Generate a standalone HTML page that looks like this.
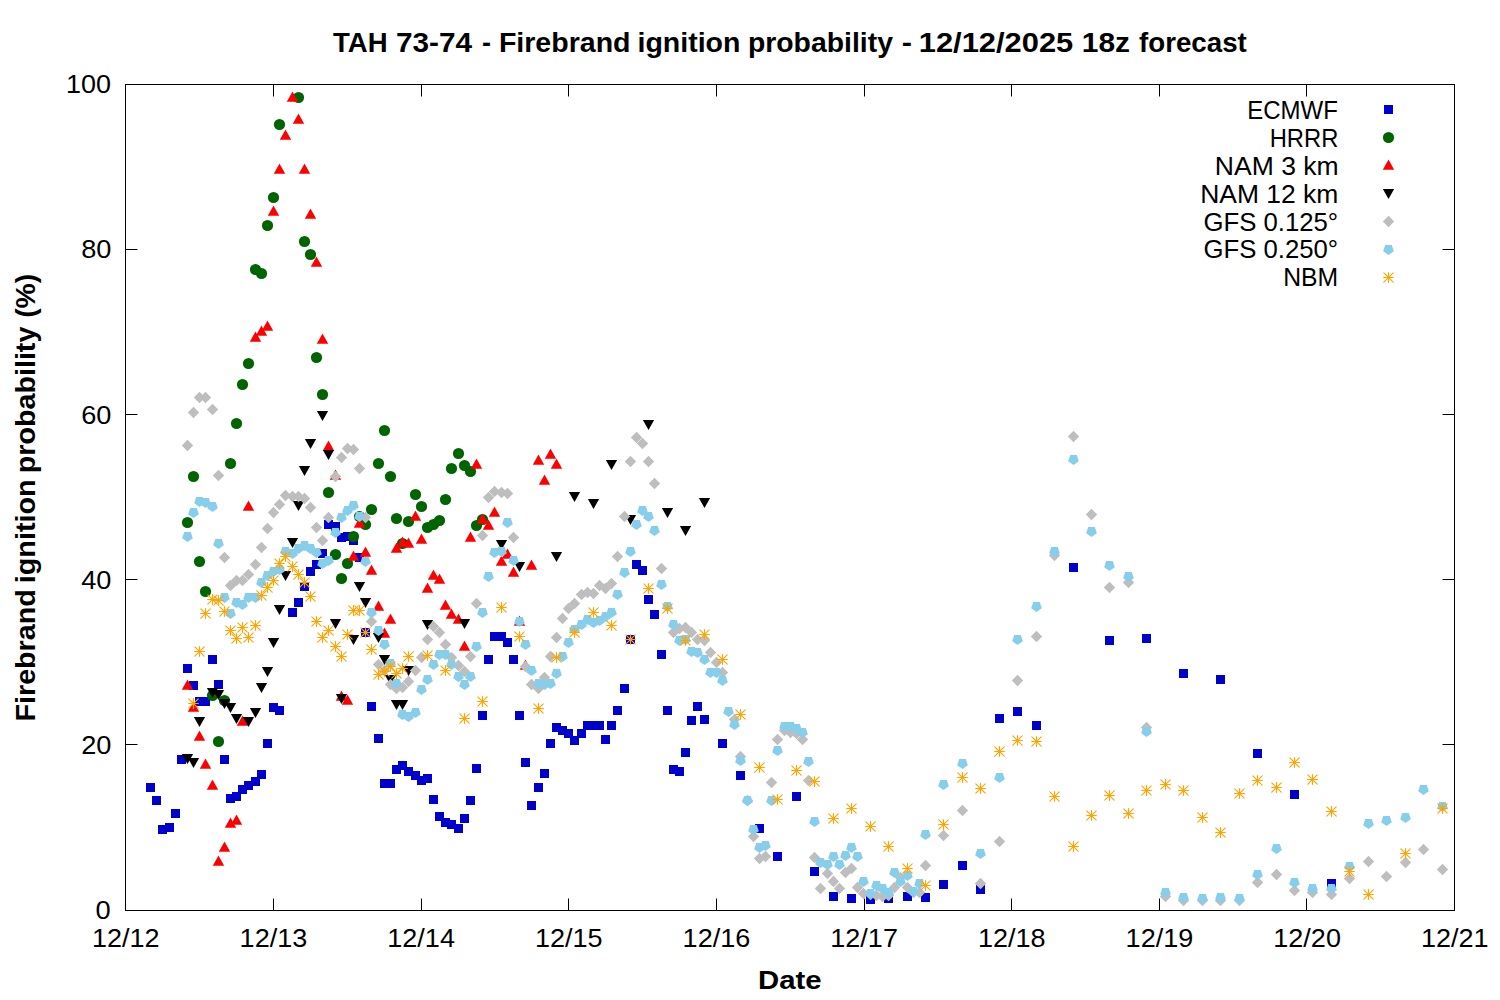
<!DOCTYPE html>
<html><head><meta charset="utf-8"><style>
html,body{margin:0;padding:0;background:#fff;}
svg{display:block;}
text{font-family:"Liberation Sans",sans-serif;fill:#000;}
</style></head><body>
<svg width="1500" height="1000" viewBox="0 0 1500 1000">
<rect width="1500" height="1000" fill="#fff"/>

<path d="M125.5 744.5H137.5M1454.5 744.5H1442.5M125.5 579.5H137.5M1454.5 579.5H1442.5M125.5 414.5H137.5M1454.5 414.5H1442.5M125.5 249.5H137.5M1454.5 249.5H1442.5M273.5 910.5V898.5M273.5 84.5V96.5M421.5 910.5V898.5M421.5 84.5V96.5M568.5 910.5V898.5M568.5 84.5V96.5M716.5 910.5V898.5M716.5 84.5V96.5M864.5 910.5V898.5M864.5 84.5V96.5M1011.5 910.5V898.5M1011.5 84.5V96.5M1159.5 910.5V898.5M1159.5 84.5V96.5M1306.5 910.5V898.5M1306.5 84.5V96.5" stroke="#000" stroke-width="1" fill="none"/>
<rect x="125.5" y="84.5" width="1329" height="826" stroke="#000" stroke-width="1" fill="none"/>
<text transform="translate(95.56,919.10) scale(1.0385,1)" font-size="26.3">0</text>
<text transform="translate(81.17,753.90) scale(1.0333,1)" font-size="26.3">20</text>
<text transform="translate(81.17,588.70) scale(1.0333,1)" font-size="26.3">40</text>
<text transform="translate(81.17,423.50) scale(1.0333,1)" font-size="26.3">60</text>
<text transform="translate(81.17,258.30) scale(1.0333,1)" font-size="26.3">80</text>
<text transform="translate(65.95,93.10) scale(1.0268,1)" font-size="26.3">100</text>
<text transform="translate(91.94,947.00) scale(1.0286,1)" font-size="26.3">12/12</text>
<text transform="translate(239.61,947.00) scale(1.0286,1)" font-size="26.3">12/13</text>
<text transform="translate(387.28,947.00) scale(1.0286,1)" font-size="26.3">12/14</text>
<text transform="translate(534.94,947.00) scale(1.0286,1)" font-size="26.3">12/15</text>
<text transform="translate(682.61,947.00) scale(1.0286,1)" font-size="26.3">12/16</text>
<text transform="translate(830.28,947.00) scale(1.0286,1)" font-size="26.3">12/17</text>
<text transform="translate(977.94,947.00) scale(1.0286,1)" font-size="26.3">12/18</text>
<text transform="translate(1125.61,947.00) scale(1.0286,1)" font-size="26.3">12/19</text>
<text transform="translate(1273.28,947.00) scale(1.0286,1)" font-size="26.3">12/20</text>
<text transform="translate(1420.94,947.00) scale(1.0286,1)" font-size="26.3">12/21</text>
<text transform="translate(333.00,51.80) scale(1.0192,1)" font-size="27.0" font-weight="bold">TAH</text>
<text transform="translate(395.90,51.80) scale(1.1029,1)" font-size="27.0" font-weight="bold">73-74</text>
<text transform="translate(482.00,51.80) scale(1.0000,1)" font-size="27.0" font-weight="bold">-</text>
<text transform="translate(498.88,51.80) scale(1.0579,1)" font-size="27.0" font-weight="bold">Firebrand</text>
<text transform="translate(637.49,51.80) scale(1.0574,1)" font-size="27.0" font-weight="bold">ignition</text>
<text transform="translate(747.90,51.80) scale(1.0515,1)" font-size="27.0" font-weight="bold">probability</text>
<text transform="translate(901.86,51.80) scale(1.1429,1)" font-size="27.0" font-weight="bold">-</text>
<text transform="translate(918.71,51.80) scale(1.1439,1)" font-size="27.0" font-weight="bold">12/12/2025</text>
<text transform="translate(1081.78,51.80) scale(1.1098,1)" font-size="27.0" font-weight="bold">18z</text>
<text transform="translate(1139.00,51.80) scale(1.0267,1)" font-size="27.0" font-weight="bold">forecast</text>
<text transform="translate(758.09,989.00) scale(1.1073,1)" font-size="26.5" font-weight="bold">Date</text>
<text transform="translate(35.00,721.53) rotate(-90) scale(1.0628,1)" font-size="27.0" font-weight="bold">Firebrand</text>
<text transform="translate(35.00,583.34) rotate(-90) scale(1.0681,1)" font-size="27.0" font-weight="bold">ignition</text>
<text transform="translate(35.00,473.33) rotate(-90) scale(1.0637,1)" font-size="27.0" font-weight="bold">probability</text>
<text transform="translate(35.00,317.85) rotate(-90) scale(1.0500,1)" font-size="27.0" font-weight="bold">(%)</text>
<text transform="translate(1247.19,118.80) scale(0.9072,1)" font-size="26.5">ECMWF</text>
<text transform="translate(1269.71,147.00) scale(0.8973,1)" font-size="26.5">HRRR</text>
<text transform="translate(1214.80,175.00) scale(1.0017,1)" font-size="26.5">NAM 3 km</text>
<text transform="translate(1200.20,202.60) scale(0.9985,1)" font-size="26.5">NAM 12 km</text>
<text transform="translate(1203.43,230.50) scale(0.9706,1)" font-size="26.5">GFS 0.125°</text>
<text transform="translate(1203.43,258.30) scale(0.9706,1)" font-size="26.5">GFS 0.250°</text>
<text transform="translate(1283.13,286.00) scale(0.9345,1)" font-size="26.5">NBM</text>
<g fill="#0000cd"><rect x="1384.00" y="105.00" width="9" height="9"/><rect x="146.00" y="783.00" width="9" height="9"/><rect x="152.00" y="796.00" width="9" height="9"/><rect x="158.00" y="825.00" width="9" height="9"/><rect x="165.00" y="823.00" width="9" height="9"/><rect x="171.00" y="809.00" width="9" height="9"/><rect x="177.00" y="755.00" width="9" height="9"/><rect x="183.00" y="664.00" width="9" height="9"/><rect x="189.00" y="681.00" width="9" height="9"/><rect x="195.00" y="697.00" width="9" height="9"/><rect x="201.00" y="697.00" width="9" height="9"/><rect x="208.00" y="655.00" width="9" height="9"/><rect x="214.00" y="680.00" width="9" height="9"/><rect x="220.00" y="755.00" width="9" height="9"/><rect x="226.00" y="794.00" width="9" height="9"/><rect x="232.00" y="792.00" width="9" height="9"/><rect x="238.00" y="785.00" width="9" height="9"/><rect x="244.00" y="781.00" width="9" height="9"/><rect x="251.00" y="777.00" width="9" height="9"/><rect x="257.00" y="770.00" width="9" height="9"/><rect x="263.00" y="739.00" width="9" height="9"/><rect x="269.00" y="703.00" width="9" height="9"/><rect x="275.00" y="706.00" width="9" height="9"/><rect x="288.00" y="608.00" width="9" height="9"/><rect x="294.00" y="598.00" width="9" height="9"/><rect x="300.00" y="582.00" width="9" height="9"/><rect x="306.00" y="567.00" width="9" height="9"/><rect x="312.00" y="560.00" width="9" height="9"/><rect x="318.00" y="549.00" width="9" height="9"/><rect x="324.00" y="520.00" width="9" height="9"/><rect x="331.00" y="522.00" width="9" height="9"/><rect x="337.00" y="533.00" width="9" height="9"/><rect x="343.00" y="532.00" width="9" height="9"/><rect x="349.00" y="536.00" width="9" height="9"/><rect x="355.00" y="553.00" width="9" height="9"/><rect x="361.00" y="628.00" width="9" height="9"/><rect x="367.00" y="702.00" width="9" height="9"/><rect x="374.00" y="734.00" width="9" height="9"/><rect x="380.00" y="779.00" width="9" height="9"/><rect x="386.00" y="779.00" width="9" height="9"/><rect x="392.00" y="765.00" width="9" height="9"/><rect x="398.00" y="761.00" width="9" height="9"/><rect x="404.00" y="767.00" width="9" height="9"/><rect x="411.00" y="771.00" width="9" height="9"/><rect x="417.00" y="776.00" width="9" height="9"/><rect x="423.00" y="774.00" width="9" height="9"/><rect x="429.00" y="795.00" width="9" height="9"/><rect x="435.00" y="812.00" width="9" height="9"/><rect x="441.00" y="818.00" width="9" height="9"/><rect x="447.00" y="820.00" width="9" height="9"/><rect x="454.00" y="824.00" width="9" height="9"/><rect x="460.00" y="814.00" width="9" height="9"/><rect x="466.00" y="796.00" width="9" height="9"/><rect x="472.00" y="764.00" width="9" height="9"/><rect x="478.00" y="711.00" width="9" height="9"/><rect x="484.00" y="655.00" width="9" height="9"/><rect x="490.00" y="632.00" width="9" height="9"/><rect x="497.00" y="632.00" width="9" height="9"/><rect x="503.00" y="638.00" width="9" height="9"/><rect x="509.00" y="655.00" width="9" height="9"/><rect x="515.00" y="711.00" width="9" height="9"/><rect x="521.00" y="758.00" width="9" height="9"/><rect x="527.00" y="801.00" width="9" height="9"/><rect x="534.00" y="783.00" width="9" height="9"/><rect x="540.00" y="769.00" width="9" height="9"/><rect x="546.00" y="739.00" width="9" height="9"/><rect x="552.00" y="723.00" width="9" height="9"/><rect x="558.00" y="726.00" width="9" height="9"/><rect x="564.00" y="729.00" width="9" height="9"/><rect x="570.00" y="736.00" width="9" height="9"/><rect x="577.00" y="729.00" width="9" height="9"/><rect x="583.00" y="721.00" width="9" height="9"/><rect x="589.00" y="721.00" width="9" height="9"/><rect x="595.00" y="721.00" width="9" height="9"/><rect x="601.00" y="735.00" width="9" height="9"/><rect x="607.00" y="721.00" width="9" height="9"/><rect x="613.00" y="706.00" width="9" height="9"/><rect x="620.00" y="684.00" width="9" height="9"/><rect x="626.00" y="635.00" width="9" height="9"/><rect x="632.00" y="560.00" width="9" height="9"/><rect x="638.00" y="566.00" width="9" height="9"/><rect x="644.00" y="595.00" width="9" height="9"/><rect x="650.00" y="610.00" width="9" height="9"/><rect x="657.00" y="650.00" width="9" height="9"/><rect x="663.00" y="706.00" width="9" height="9"/><rect x="669.00" y="765.00" width="9" height="9"/><rect x="675.00" y="767.00" width="9" height="9"/><rect x="681.00" y="748.00" width="9" height="9"/><rect x="687.00" y="716.00" width="9" height="9"/><rect x="693.00" y="702.00" width="9" height="9"/><rect x="700.00" y="715.00" width="9" height="9"/><rect x="718.00" y="739.00" width="9" height="9"/><rect x="736.00" y="771.00" width="9" height="9"/><rect x="755.00" y="824.00" width="9" height="9"/><rect x="773.00" y="852.00" width="9" height="9"/><rect x="792.00" y="792.00" width="9" height="9"/><rect x="810.00" y="867.00" width="9" height="9"/><rect x="829.00" y="892.00" width="9" height="9"/><rect x="847.00" y="894.00" width="9" height="9"/><rect x="866.00" y="895.00" width="9" height="9"/><rect x="884.00" y="894.00" width="9" height="9"/><rect x="903.00" y="892.00" width="9" height="9"/><rect x="921.00" y="893.00" width="9" height="9"/><rect x="939.00" y="880.00" width="9" height="9"/><rect x="958.00" y="861.00" width="9" height="9"/><rect x="976.00" y="885.00" width="9" height="9"/><rect x="995.00" y="714.00" width="9" height="9"/><rect x="1013.00" y="707.00" width="9" height="9"/><rect x="1032.00" y="721.00" width="9" height="9"/><rect x="1069.00" y="563.00" width="9" height="9"/><rect x="1105.00" y="636.00" width="9" height="9"/><rect x="1142.00" y="634.00" width="9" height="9"/><rect x="1179.00" y="669.00" width="9" height="9"/><rect x="1216.00" y="675.00" width="9" height="9"/><rect x="1253.00" y="749.00" width="9" height="9"/><rect x="1290.00" y="790.00" width="9" height="9"/><rect x="1327.00" y="879.00" width="9" height="9"/></g>
<g fill="#006400"><circle cx="1388.50" cy="137.50" r="5.6"/><circle cx="187.50" cy="522.50" r="5.6"/><circle cx="193.50" cy="476.50" r="5.6"/><circle cx="199.50" cy="561.50" r="5.6"/><circle cx="205.50" cy="591.50" r="5.6"/><circle cx="212.50" cy="695.50" r="5.6"/><circle cx="218.50" cy="741.50" r="5.6"/><circle cx="224.50" cy="700.50" r="5.6"/><circle cx="230.50" cy="463.50" r="5.6"/><circle cx="236.50" cy="423.50" r="5.6"/><circle cx="242.50" cy="384.50" r="5.6"/><circle cx="248.50" cy="363.50" r="5.6"/><circle cx="255.50" cy="269.50" r="5.6"/><circle cx="261.50" cy="273.50" r="5.6"/><circle cx="267.50" cy="225.50" r="5.6"/><circle cx="273.50" cy="197.50" r="5.6"/><circle cx="279.50" cy="124.50" r="5.6"/><circle cx="298.50" cy="97.50" r="5.6"/><circle cx="304.50" cy="241.50" r="5.6"/><circle cx="310.50" cy="254.50" r="5.6"/><circle cx="316.50" cy="357.50" r="5.6"/><circle cx="322.50" cy="394.50" r="5.6"/><circle cx="328.50" cy="492.50" r="5.6"/><circle cx="335.50" cy="554.50" r="5.6"/><circle cx="341.50" cy="578.50" r="5.6"/><circle cx="347.50" cy="563.50" r="5.6"/><circle cx="353.50" cy="536.50" r="5.6"/><circle cx="359.50" cy="516.50" r="5.6"/><circle cx="365.50" cy="524.50" r="5.6"/><circle cx="371.50" cy="509.50" r="5.6"/><circle cx="378.50" cy="463.50" r="5.6"/><circle cx="384.50" cy="430.50" r="5.6"/><circle cx="390.50" cy="476.50" r="5.6"/><circle cx="396.50" cy="518.50" r="5.6"/><circle cx="402.50" cy="543.50" r="5.6"/><circle cx="408.50" cy="521.50" r="5.6"/><circle cx="415.50" cy="494.50" r="5.6"/><circle cx="421.50" cy="506.50" r="5.6"/><circle cx="427.50" cy="527.50" r="5.6"/><circle cx="433.50" cy="524.50" r="5.6"/><circle cx="439.50" cy="520.50" r="5.6"/><circle cx="445.50" cy="499.50" r="5.6"/><circle cx="451.50" cy="468.50" r="5.6"/><circle cx="458.50" cy="453.50" r="5.6"/><circle cx="464.50" cy="465.50" r="5.6"/><circle cx="470.50" cy="471.50" r="5.6"/><circle cx="476.50" cy="525.50" r="5.6"/><circle cx="482.50" cy="519.50" r="5.6"/></g>
<g fill="#ff0000"><path d="M1388.50 159.50L1394.20 169.80L1382.80 169.80Z"/><path d="M187.50 679.50L193.20 689.80L181.80 689.80Z"/><path d="M193.50 701.50L199.20 711.80L187.80 711.80Z"/><path d="M199.50 730.50L205.20 740.80L193.80 740.80Z"/><path d="M205.50 758.50L211.20 768.80L199.80 768.80Z"/><path d="M212.50 779.50L218.20 789.80L206.80 789.80Z"/><path d="M218.50 855.50L224.20 865.80L212.80 865.80Z"/><path d="M224.50 841.50L230.20 851.80L218.80 851.80Z"/><path d="M230.50 817.50L236.20 827.80L224.80 827.80Z"/><path d="M236.50 814.50L242.20 824.80L230.80 824.80Z"/><path d="M242.50 715.50L248.20 725.80L236.80 725.80Z"/><path d="M248.50 500.50L254.20 510.80L242.80 510.80Z"/><path d="M255.50 331.50L261.20 341.80L249.80 341.80Z"/><path d="M261.50 325.50L267.20 335.80L255.80 335.80Z"/><path d="M267.50 320.50L273.20 330.80L261.80 330.80Z"/><path d="M273.50 205.50L279.20 215.80L267.80 215.80Z"/><path d="M279.50 163.50L285.20 173.80L273.80 173.80Z"/><path d="M285.50 129.50L291.20 139.80L279.80 139.80Z"/><path d="M292.50 91.50L298.20 101.80L286.80 101.80Z"/><path d="M298.50 113.50L304.20 123.80L292.80 123.80Z"/><path d="M304.50 163.50L310.20 173.80L298.80 173.80Z"/><path d="M310.50 208.50L316.20 218.80L304.80 218.80Z"/><path d="M316.50 256.50L322.20 266.80L310.80 266.80Z"/><path d="M322.50 333.50L328.20 343.80L316.80 343.80Z"/><path d="M328.50 440.50L334.20 450.80L322.80 450.80Z"/><path d="M335.50 469.50L341.20 479.80L329.80 479.80Z"/><path d="M341.50 690.50L347.20 700.80L335.80 700.80Z"/><path d="M347.50 694.50L353.20 704.80L341.80 704.80Z"/><path d="M353.50 550.50L359.20 560.80L347.80 560.80Z"/><path d="M359.50 517.50L365.20 527.80L353.80 527.80Z"/><path d="M365.50 546.50L371.20 556.80L359.80 556.80Z"/><path d="M371.50 564.50L377.20 574.80L365.80 574.80Z"/><path d="M378.50 600.50L384.20 610.80L372.80 610.80Z"/><path d="M384.50 627.50L390.20 637.80L378.80 637.80Z"/><path d="M390.50 613.50L396.20 623.80L384.80 623.80Z"/><path d="M396.50 542.50L402.20 552.80L390.80 552.80Z"/><path d="M402.50 536.50L408.20 546.80L396.80 546.80Z"/><path d="M408.50 537.50L414.20 547.80L402.80 547.80Z"/><path d="M415.50 510.50L421.20 520.80L409.80 520.80Z"/><path d="M421.50 533.50L427.20 543.80L415.80 543.80Z"/><path d="M427.50 582.50L433.20 592.80L421.80 592.80Z"/><path d="M433.50 569.50L439.20 579.80L427.80 579.80Z"/><path d="M439.50 573.50L445.20 583.80L433.80 583.80Z"/><path d="M445.50 599.50L451.20 609.80L439.80 609.80Z"/><path d="M451.50 608.50L457.20 618.80L445.80 618.80Z"/><path d="M458.50 613.50L464.20 623.80L452.80 623.80Z"/><path d="M464.50 640.50L470.20 650.80L458.80 650.80Z"/><path d="M470.50 531.50L476.20 541.80L464.80 541.80Z"/><path d="M476.50 458.50L482.20 468.80L470.80 468.80Z"/><path d="M482.50 513.50L488.20 523.80L476.80 523.80Z"/><path d="M488.50 519.50L494.20 529.80L482.80 529.80Z"/><path d="M494.50 506.50L500.20 516.80L488.80 516.80Z"/><path d="M501.50 555.50L507.20 565.80L495.80 565.80Z"/><path d="M507.50 548.50L513.20 558.80L501.80 558.80Z"/><path d="M513.50 566.50L519.20 576.80L507.80 576.80Z"/><path d="M519.50 615.50L525.20 625.80L513.80 625.80Z"/><path d="M525.50 659.50L531.20 669.80L519.80 669.80Z"/><path d="M531.50 559.50L537.20 569.80L525.80 569.80Z"/><path d="M538.50 454.50L544.20 464.80L532.80 464.80Z"/><path d="M544.50 474.50L550.20 484.80L538.80 484.80Z"/><path d="M550.50 448.50L556.20 458.80L544.80 458.80Z"/><path d="M556.50 458.50L562.20 468.80L550.80 468.80Z"/></g>
<g fill="#000000"><path d="M1382.90 189.00L1394.10 189.00L1388.50 199.10Z"/><path d="M181.90 754.00L193.10 754.00L187.50 764.10Z"/><path d="M187.90 758.00L199.10 758.00L193.50 768.10Z"/><path d="M193.90 717.00L205.10 717.00L199.50 727.10Z"/><path d="M206.90 688.00L218.10 688.00L212.50 698.10Z"/><path d="M212.90 690.00L224.10 690.00L218.50 700.10Z"/><path d="M218.90 699.00L230.10 699.00L224.50 709.10Z"/><path d="M224.90 703.00L236.10 703.00L230.50 713.10Z"/><path d="M230.90 714.00L242.10 714.00L236.50 724.10Z"/><path d="M242.90 717.00L254.10 717.00L248.50 727.10Z"/><path d="M249.90 708.00L261.10 708.00L255.50 718.10Z"/><path d="M255.90 683.00L267.10 683.00L261.50 693.10Z"/><path d="M261.90 667.00L273.10 667.00L267.50 677.10Z"/><path d="M267.90 638.00L279.10 638.00L273.50 648.10Z"/><path d="M273.90 605.00L285.10 605.00L279.50 615.10Z"/><path d="M279.90 571.00L291.10 571.00L285.50 581.10Z"/><path d="M286.90 538.00L298.10 538.00L292.50 548.10Z"/><path d="M292.90 501.00L304.10 501.00L298.50 511.10Z"/><path d="M298.90 466.00L310.10 466.00L304.50 476.10Z"/><path d="M304.90 439.00L316.10 439.00L310.50 449.10Z"/><path d="M316.90 411.00L328.10 411.00L322.50 421.10Z"/><path d="M322.90 450.00L334.10 450.00L328.50 460.10Z"/><path d="M329.90 619.00L341.10 619.00L335.50 629.10Z"/><path d="M335.90 694.00L347.10 694.00L341.50 704.10Z"/><path d="M347.90 635.00L359.10 635.00L353.50 645.10Z"/><path d="M353.90 582.00L365.10 582.00L359.50 592.10Z"/><path d="M359.90 598.00L371.10 598.00L365.50 608.10Z"/><path d="M372.90 633.00L384.10 633.00L378.50 643.10Z"/><path d="M378.90 655.00L390.10 655.00L384.50 665.10Z"/><path d="M384.90 675.00L396.10 675.00L390.50 685.10Z"/><path d="M390.90 700.00L402.10 700.00L396.50 710.10Z"/><path d="M396.90 700.00L408.10 700.00L402.50 710.10Z"/><path d="M402.90 666.00L414.10 666.00L408.50 676.10Z"/><path d="M421.90 620.00L433.10 620.00L427.50 630.10Z"/><path d="M458.90 619.00L470.10 619.00L464.50 629.10Z"/><path d="M495.90 540.00L507.10 540.00L501.50 550.10Z"/><path d="M513.90 562.00L525.10 562.00L519.50 572.10Z"/><path d="M550.90 552.00L562.10 552.00L556.50 562.10Z"/><path d="M568.90 492.00L580.10 492.00L574.50 502.10Z"/><path d="M587.90 499.00L599.10 499.00L593.50 509.10Z"/><path d="M605.90 460.00L617.10 460.00L611.50 470.10Z"/><path d="M624.90 515.00L636.10 515.00L630.50 525.10Z"/><path d="M642.90 420.00L654.10 420.00L648.50 430.10Z"/><path d="M661.90 508.00L673.10 508.00L667.50 518.10Z"/><path d="M679.90 526.00L691.10 526.00L685.50 536.10Z"/><path d="M698.90 498.00L710.10 498.00L704.50 508.10Z"/></g>
<g fill="#bebebe"><path d="M1388.50 215.80L1394.20 221.50L1388.50 227.20L1382.80 221.50Z"/><path d="M187.50 439.80L193.20 445.50L187.50 451.20L181.80 445.50Z"/><path d="M193.50 406.80L199.20 412.50L193.50 418.20L187.80 412.50Z"/><path d="M199.50 391.80L205.20 397.50L199.50 403.20L193.80 397.50Z"/><path d="M205.50 391.80L211.20 397.50L205.50 403.20L199.80 397.50Z"/><path d="M212.50 403.80L218.20 409.50L212.50 415.20L206.80 409.50Z"/><path d="M218.50 469.80L224.20 475.50L218.50 481.20L212.80 475.50Z"/><path d="M224.50 551.80L230.20 557.50L224.50 563.20L218.80 557.50Z"/><path d="M230.50 579.80L236.20 585.50L230.50 591.20L224.80 585.50Z"/><path d="M236.50 574.80L242.20 580.50L236.50 586.20L230.80 580.50Z"/><path d="M242.50 574.80L248.20 580.50L242.50 586.20L236.80 580.50Z"/><path d="M248.50 568.80L254.20 574.50L248.50 580.20L242.80 574.50Z"/><path d="M255.50 558.80L261.20 564.50L255.50 570.20L249.80 564.50Z"/><path d="M261.50 541.80L267.20 547.50L261.50 553.20L255.80 547.50Z"/><path d="M267.50 522.80L273.20 528.50L267.50 534.20L261.80 528.50Z"/><path d="M273.50 506.80L279.20 512.50L273.50 518.20L267.80 512.50Z"/><path d="M279.50 498.80L285.20 504.50L279.50 510.20L273.80 504.50Z"/><path d="M285.50 489.80L291.20 495.50L285.50 501.20L279.80 495.50Z"/><path d="M292.50 490.80L298.20 496.50L292.50 502.20L286.80 496.50Z"/><path d="M298.50 490.80L304.20 496.50L298.50 502.20L292.80 496.50Z"/><path d="M304.50 492.80L310.20 498.50L304.50 504.20L298.80 498.50Z"/><path d="M310.50 501.80L316.20 507.50L310.50 513.20L304.80 507.50Z"/><path d="M316.50 521.80L322.20 527.50L316.50 533.20L310.80 527.50Z"/><path d="M322.50 534.80L328.20 540.50L322.50 546.20L316.80 540.50Z"/><path d="M328.50 511.80L334.20 517.50L328.50 523.20L322.80 517.50Z"/><path d="M335.50 470.80L341.20 476.50L335.50 482.20L329.80 476.50Z"/><path d="M341.50 451.80L347.20 457.50L341.50 463.20L335.80 457.50Z"/><path d="M347.50 442.80L353.20 448.50L347.50 454.20L341.80 448.50Z"/><path d="M353.50 443.80L359.20 449.50L353.50 455.20L347.80 449.50Z"/><path d="M359.50 462.80L365.20 468.50L359.50 474.20L353.80 468.50Z"/><path d="M365.50 511.80L371.20 517.50L365.50 523.20L359.80 517.50Z"/><path d="M371.50 615.80L377.20 621.50L371.50 627.20L365.80 621.50Z"/><path d="M378.50 658.80L384.20 664.50L378.50 670.20L372.80 664.50Z"/><path d="M384.50 664.80L390.20 670.50L384.50 676.20L378.80 670.50Z"/><path d="M390.50 678.80L396.20 684.50L390.50 690.20L384.80 684.50Z"/><path d="M396.50 682.80L402.20 688.50L396.50 694.20L390.80 688.50Z"/><path d="M402.50 681.80L408.20 687.50L402.50 693.20L396.80 687.50Z"/><path d="M408.50 675.80L414.20 681.50L408.50 687.20L402.80 681.50Z"/><path d="M415.50 664.80L421.20 670.50L415.50 676.20L409.80 670.50Z"/><path d="M421.50 651.80L427.20 657.50L421.50 663.20L415.80 657.50Z"/><path d="M427.50 633.80L433.20 639.50L427.50 645.20L421.80 639.50Z"/><path d="M433.50 620.80L439.20 626.50L433.50 632.20L427.80 626.50Z"/><path d="M439.50 626.80L445.20 632.50L439.50 638.20L433.80 632.50Z"/><path d="M445.50 638.80L451.20 644.50L445.50 650.20L439.80 644.50Z"/><path d="M451.50 651.80L457.20 657.50L451.50 663.20L445.80 657.50Z"/><path d="M458.50 659.80L464.20 665.50L458.50 671.20L452.80 665.50Z"/><path d="M464.50 665.80L470.20 671.50L464.50 677.20L458.80 671.50Z"/><path d="M470.50 650.80L476.20 656.50L470.50 662.20L464.80 656.50Z"/><path d="M476.50 597.80L482.20 603.50L476.50 609.20L470.80 603.50Z"/><path d="M482.50 529.80L488.20 535.50L482.50 541.20L476.80 535.50Z"/><path d="M488.50 491.80L494.20 497.50L488.50 503.20L482.80 497.50Z"/><path d="M494.50 485.80L500.20 491.50L494.50 497.20L488.80 491.50Z"/><path d="M501.50 486.80L507.20 492.50L501.50 498.20L495.80 492.50Z"/><path d="M507.50 487.80L513.20 493.50L507.50 499.20L501.80 493.50Z"/><path d="M513.50 531.80L519.20 537.50L513.50 543.20L507.80 537.50Z"/><path d="M525.50 660.80L531.20 666.50L525.50 672.20L519.80 666.50Z"/><path d="M531.50 678.80L537.20 684.50L531.50 690.20L525.80 684.50Z"/><path d="M538.50 682.80L544.20 688.50L538.50 694.20L532.80 688.50Z"/><path d="M544.50 671.80L550.20 677.50L544.50 683.20L538.80 677.50Z"/><path d="M550.50 650.80L556.20 656.50L550.50 662.20L544.80 656.50Z"/><path d="M556.50 631.80L562.20 637.50L556.50 643.20L550.80 637.50Z"/><path d="M562.50 612.80L568.20 618.50L562.50 624.20L556.80 618.50Z"/><path d="M568.50 602.80L574.20 608.50L568.50 614.20L562.80 608.50Z"/><path d="M574.50 597.80L580.20 603.50L574.50 609.20L568.80 603.50Z"/><path d="M581.50 588.80L587.20 594.50L581.50 600.20L575.80 594.50Z"/><path d="M587.50 586.80L593.20 592.50L587.50 598.20L581.80 592.50Z"/><path d="M593.50 587.80L599.20 593.50L593.50 599.20L587.80 593.50Z"/><path d="M599.50 579.80L605.20 585.50L599.50 591.20L593.80 585.50Z"/><path d="M605.50 582.80L611.20 588.50L605.50 594.20L599.80 588.50Z"/><path d="M611.50 577.80L617.20 583.50L611.50 589.20L605.80 583.50Z"/><path d="M617.50 550.80L623.20 556.50L617.50 562.20L611.80 556.50Z"/><path d="M624.50 510.80L630.20 516.50L624.50 522.20L618.80 516.50Z"/><path d="M630.50 455.80L636.20 461.50L630.50 467.20L624.80 461.50Z"/><path d="M636.50 431.80L642.20 437.50L636.50 443.20L630.80 437.50Z"/><path d="M642.50 437.80L648.20 443.50L642.50 449.20L636.80 443.50Z"/><path d="M648.50 455.80L654.20 461.50L648.50 467.20L642.80 461.50Z"/><path d="M654.50 477.80L660.20 483.50L654.50 489.20L648.80 483.50Z"/><path d="M661.50 562.80L667.20 568.50L661.50 574.20L655.80 568.50Z"/><path d="M673.50 626.80L679.20 632.50L673.50 638.20L667.80 632.50Z"/><path d="M679.50 622.80L685.20 628.50L679.50 634.20L673.80 628.50Z"/><path d="M685.50 621.80L691.20 627.50L685.50 633.20L679.80 627.50Z"/><path d="M691.50 626.80L697.20 632.50L691.50 638.20L685.80 632.50Z"/><path d="M697.50 633.80L703.20 639.50L697.50 645.20L691.80 639.50Z"/><path d="M704.50 634.80L710.20 640.50L704.50 646.20L698.80 640.50Z"/><path d="M710.50 646.80L716.20 652.50L710.50 658.20L704.80 652.50Z"/><path d="M716.50 656.80L722.20 662.50L716.50 668.20L710.80 662.50Z"/><path d="M722.50 666.80L728.20 672.50L722.50 678.20L716.80 672.50Z"/><path d="M734.50 713.80L740.20 719.50L734.50 725.20L728.80 719.50Z"/><path d="M740.50 750.80L746.20 756.50L740.50 762.20L734.80 756.50Z"/><path d="M747.50 794.80L753.20 800.50L747.50 806.20L741.80 800.50Z"/><path d="M753.50 830.80L759.20 836.50L753.50 842.20L747.80 836.50Z"/><path d="M759.50 852.80L765.20 858.50L759.50 864.20L753.80 858.50Z"/><path d="M765.50 850.80L771.20 856.50L765.50 862.20L759.80 856.50Z"/><path d="M771.50 776.80L777.20 782.50L771.50 788.20L765.80 782.50Z"/><path d="M777.50 733.80L783.20 739.50L777.50 745.20L771.80 739.50Z"/><path d="M784.50 724.80L790.20 730.50L784.50 736.20L778.80 730.50Z"/><path d="M790.50 726.80L796.20 732.50L790.50 738.20L784.80 732.50Z"/><path d="M796.50 727.80L802.20 733.50L796.50 739.20L790.80 733.50Z"/><path d="M802.50 733.80L808.20 739.50L802.50 745.20L796.80 739.50Z"/><path d="M808.50 774.80L814.20 780.50L808.50 786.20L802.80 780.50Z"/><path d="M814.50 851.80L820.20 857.50L814.50 863.20L808.80 857.50Z"/><path d="M820.50 882.80L826.20 888.50L820.50 894.20L814.80 888.50Z"/><path d="M827.50 867.80L833.20 873.50L827.50 879.20L821.80 873.50Z"/><path d="M833.50 875.80L839.20 881.50L833.50 887.20L827.80 881.50Z"/><path d="M839.50 882.80L845.20 888.50L839.50 894.20L833.80 888.50Z"/><path d="M845.50 866.80L851.20 872.50L845.50 878.20L839.80 872.50Z"/><path d="M851.50 862.80L857.20 868.50L851.50 874.20L845.80 868.50Z"/><path d="M857.50 881.80L863.20 887.50L857.50 893.20L851.80 887.50Z"/><path d="M863.50 887.80L869.20 893.50L863.50 899.20L857.80 893.50Z"/><path d="M870.50 888.80L876.20 894.50L870.50 900.20L864.80 894.50Z"/><path d="M876.50 889.80L882.20 895.50L876.50 901.20L870.80 895.50Z"/><path d="M882.50 890.80L888.20 896.50L882.50 902.20L876.80 896.50Z"/><path d="M888.50 889.80L894.20 895.50L888.50 901.20L882.80 895.50Z"/><path d="M894.50 881.80L900.20 887.50L894.50 893.20L888.80 887.50Z"/><path d="M900.50 871.80L906.20 877.50L900.50 883.20L894.80 877.50Z"/><path d="M907.50 881.80L913.20 887.50L907.50 893.20L901.80 887.50Z"/><path d="M913.50 886.80L919.20 892.50L913.50 898.20L907.80 892.50Z"/><path d="M919.50 886.80L925.20 892.50L919.50 898.20L913.80 892.50Z"/><path d="M925.50 859.80L931.20 865.50L925.50 871.20L919.80 865.50Z"/><path d="M943.50 829.80L949.20 835.50L943.50 841.20L937.80 835.50Z"/><path d="M962.50 804.80L968.20 810.50L962.50 816.20L956.80 810.50Z"/><path d="M980.50 877.80L986.20 883.50L980.50 889.20L974.80 883.50Z"/><path d="M999.50 835.80L1005.20 841.50L999.50 847.20L993.80 841.50Z"/><path d="M1017.50 674.80L1023.20 680.50L1017.50 686.20L1011.80 680.50Z"/><path d="M1036.50 630.80L1042.20 636.50L1036.50 642.20L1030.80 636.50Z"/><path d="M1054.50 549.80L1060.20 555.50L1054.50 561.20L1048.80 555.50Z"/><path d="M1073.50 430.80L1079.20 436.50L1073.50 442.20L1067.80 436.50Z"/><path d="M1091.50 508.80L1097.20 514.50L1091.50 520.20L1085.80 514.50Z"/><path d="M1109.50 581.80L1115.20 587.50L1109.50 593.20L1103.80 587.50Z"/><path d="M1128.50 576.80L1134.20 582.50L1128.50 588.20L1122.80 582.50Z"/><path d="M1146.50 721.80L1152.20 727.50L1146.50 733.20L1140.80 727.50Z"/><path d="M1165.50 890.80L1171.20 896.50L1165.50 902.20L1159.80 896.50Z"/><path d="M1183.50 894.80L1189.20 900.50L1183.50 906.20L1177.80 900.50Z"/><path d="M1202.50 894.80L1208.20 900.50L1202.50 906.20L1196.80 900.50Z"/><path d="M1220.50 894.80L1226.20 900.50L1220.50 906.20L1214.80 900.50Z"/><path d="M1239.50 894.80L1245.20 900.50L1239.50 906.20L1233.80 900.50Z"/><path d="M1257.50 876.80L1263.20 882.50L1257.50 888.20L1251.80 882.50Z"/><path d="M1276.50 868.80L1282.20 874.50L1276.50 880.20L1270.80 874.50Z"/><path d="M1294.50 884.80L1300.20 890.50L1294.50 896.20L1288.80 890.50Z"/><path d="M1312.50 886.80L1318.20 892.50L1312.50 898.20L1306.80 892.50Z"/><path d="M1331.50 888.80L1337.20 894.50L1331.50 900.20L1325.80 894.50Z"/><path d="M1349.50 872.80L1355.20 878.50L1349.50 884.20L1343.80 878.50Z"/><path d="M1368.50 855.80L1374.20 861.50L1368.50 867.20L1362.80 861.50Z"/><path d="M1386.50 870.80L1392.20 876.50L1386.50 882.20L1380.80 876.50Z"/><path d="M1405.50 856.80L1411.20 862.50L1405.50 868.20L1399.80 862.50Z"/><path d="M1423.50 843.80L1429.20 849.50L1423.50 855.20L1417.80 849.50Z"/><path d="M1442.50 863.80L1448.20 869.50L1442.50 875.20L1436.80 869.50Z"/></g>
<g fill="#87ceeb"><path d="M1388.50 255.10L1383.17 251.23L1385.21 244.97L1391.79 244.97L1393.83 251.23Z"/><path d="M187.50 542.10L182.17 538.23L184.21 531.97L190.79 531.97L192.83 538.23Z"/><path d="M193.50 518.10L188.17 514.23L190.21 507.97L196.79 507.97L198.83 514.23Z"/><path d="M199.50 507.10L194.17 503.23L196.21 496.97L202.79 496.97L204.83 503.23Z"/><path d="M205.50 508.10L200.17 504.23L202.21 497.97L208.79 497.97L210.83 504.23Z"/><path d="M212.50 512.10L207.17 508.23L209.21 501.97L215.79 501.97L217.83 508.23Z"/><path d="M218.50 549.10L213.17 545.23L215.21 538.97L221.79 538.97L223.83 545.23Z"/><path d="M224.50 603.10L219.17 599.23L221.21 592.97L227.79 592.97L229.83 599.23Z"/><path d="M230.50 619.10L225.17 615.23L227.21 608.97L233.79 608.97L235.83 615.23Z"/><path d="M236.50 608.10L231.17 604.23L233.21 597.97L239.79 597.97L241.83 604.23Z"/><path d="M242.50 610.10L237.17 606.23L239.21 599.97L245.79 599.97L247.83 606.23Z"/><path d="M248.50 603.10L243.17 599.23L245.21 592.97L251.79 592.97L253.83 599.23Z"/><path d="M255.50 603.10L250.17 599.23L252.21 592.97L258.79 592.97L260.83 599.23Z"/><path d="M261.50 588.10L256.17 584.23L258.21 577.97L264.79 577.97L266.83 584.23Z"/><path d="M267.50 581.10L262.17 577.23L264.21 570.97L270.79 570.97L272.83 577.23Z"/><path d="M273.50 577.10L268.17 573.23L270.21 566.97L276.79 566.97L278.83 573.23Z"/><path d="M279.50 575.10L274.17 571.23L276.21 564.97L282.79 564.97L284.83 571.23Z"/><path d="M285.50 557.10L280.17 553.23L282.21 546.97L288.79 546.97L290.83 553.23Z"/><path d="M292.50 559.10L287.17 555.23L289.21 548.97L295.79 548.97L297.83 555.23Z"/><path d="M298.50 554.10L293.17 550.23L295.21 543.97L301.79 543.97L303.83 550.23Z"/><path d="M304.50 551.10L299.17 547.23L301.21 540.97L307.79 540.97L309.83 547.23Z"/><path d="M310.50 554.10L305.17 550.23L307.21 543.97L313.79 543.97L315.83 550.23Z"/><path d="M316.50 558.10L311.17 554.23L313.21 547.97L319.79 547.97L321.83 554.23Z"/><path d="M322.50 569.10L317.17 565.23L319.21 558.97L325.79 558.97L327.83 565.23Z"/><path d="M328.50 566.10L323.17 562.23L325.21 555.97L331.79 555.97L333.83 562.23Z"/><path d="M335.50 538.10L330.17 534.23L332.21 527.97L338.79 527.97L340.83 534.23Z"/><path d="M341.50 523.10L336.17 519.23L338.21 512.97L344.79 512.97L346.83 519.23Z"/><path d="M347.50 516.10L342.17 512.23L344.21 505.97L350.79 505.97L352.83 512.23Z"/><path d="M353.50 511.10L348.17 507.23L350.21 500.97L356.79 500.97L358.83 507.23Z"/><path d="M359.50 522.10L354.17 518.23L356.21 511.97L362.79 511.97L364.83 518.23Z"/><path d="M365.50 567.10L360.17 563.23L362.21 556.97L368.79 556.97L370.83 563.23Z"/><path d="M371.50 618.10L366.17 614.23L368.21 607.97L374.79 607.97L376.83 614.23Z"/><path d="M378.50 636.10L373.17 632.23L375.21 625.97L381.79 625.97L383.83 632.23Z"/><path d="M384.50 650.10L379.17 646.23L381.21 639.97L387.79 639.97L389.83 646.23Z"/><path d="M390.50 669.10L385.17 665.23L387.21 658.97L393.79 658.97L395.83 665.23Z"/><path d="M396.50 689.10L391.17 685.23L393.21 678.97L399.79 678.97L401.83 685.23Z"/><path d="M402.50 720.10L397.17 716.23L399.21 709.97L405.79 709.97L407.83 716.23Z"/><path d="M408.50 722.10L403.17 718.23L405.21 711.97L411.79 711.97L413.83 718.23Z"/><path d="M415.50 718.10L410.17 714.23L412.21 707.97L418.79 707.97L420.83 714.23Z"/><path d="M421.50 695.10L416.17 691.23L418.21 684.97L424.79 684.97L426.83 691.23Z"/><path d="M427.50 685.10L422.17 681.23L424.21 674.97L430.79 674.97L432.83 681.23Z"/><path d="M433.50 670.10L428.17 666.23L430.21 659.97L436.79 659.97L438.83 666.23Z"/><path d="M439.50 660.10L434.17 656.23L436.21 649.97L442.79 649.97L444.83 656.23Z"/><path d="M445.50 660.10L440.17 656.23L442.21 649.97L448.79 649.97L450.83 656.23Z"/><path d="M451.50 670.10L446.17 666.23L448.21 659.97L454.79 659.97L456.83 666.23Z"/><path d="M458.50 682.10L453.17 678.23L455.21 671.97L461.79 671.97L463.83 678.23Z"/><path d="M464.50 690.10L459.17 686.23L461.21 679.97L467.79 679.97L469.83 686.23Z"/><path d="M470.50 682.10L465.17 678.23L467.21 671.97L473.79 671.97L475.83 678.23Z"/><path d="M476.50 652.10L471.17 648.23L473.21 641.97L479.79 641.97L481.83 648.23Z"/><path d="M482.50 618.10L477.17 614.23L479.21 607.97L485.79 607.97L487.83 614.23Z"/><path d="M488.50 582.10L483.17 578.23L485.21 571.97L491.79 571.97L493.83 578.23Z"/><path d="M494.50 558.10L489.17 554.23L491.21 547.97L497.79 547.97L499.83 554.23Z"/><path d="M501.50 557.10L496.17 553.23L498.21 546.97L504.79 546.97L506.83 553.23Z"/><path d="M507.50 528.10L502.17 524.23L504.21 517.97L510.79 517.97L512.83 524.23Z"/><path d="M513.50 566.10L508.17 562.23L510.21 555.97L516.79 555.97L518.83 562.23Z"/><path d="M519.50 627.10L514.17 623.23L516.21 616.97L522.79 616.97L524.83 623.23Z"/><path d="M525.50 650.10L520.17 646.23L522.21 639.97L528.79 639.97L530.83 646.23Z"/><path d="M531.50 676.10L526.17 672.23L528.21 665.97L534.79 665.97L536.83 672.23Z"/><path d="M538.50 689.10L533.17 685.23L535.21 678.97L541.79 678.97L543.83 685.23Z"/><path d="M544.50 690.10L539.17 686.23L541.21 679.97L547.79 679.97L549.83 686.23Z"/><path d="M550.50 689.10L545.17 685.23L547.21 678.97L553.79 678.97L555.83 685.23Z"/><path d="M556.50 679.10L551.17 675.23L553.21 668.97L559.79 668.97L561.83 675.23Z"/><path d="M562.50 662.10L557.17 658.23L559.21 651.97L565.79 651.97L567.83 658.23Z"/><path d="M568.50 648.10L563.17 644.23L565.21 637.97L571.79 637.97L573.83 644.23Z"/><path d="M574.50 635.10L569.17 631.23L571.21 624.97L577.79 624.97L579.83 631.23Z"/><path d="M581.50 630.10L576.17 626.23L578.21 619.97L584.79 619.97L586.83 626.23Z"/><path d="M587.50 625.10L582.17 621.23L584.21 614.97L590.79 614.97L592.83 621.23Z"/><path d="M593.50 628.10L588.17 624.23L590.21 617.97L596.79 617.97L598.83 624.23Z"/><path d="M599.50 626.10L594.17 622.23L596.21 615.97L602.79 615.97L604.83 622.23Z"/><path d="M605.50 622.10L600.17 618.23L602.21 611.97L608.79 611.97L610.83 618.23Z"/><path d="M611.50 618.10L606.17 614.23L608.21 607.97L614.79 607.97L616.83 614.23Z"/><path d="M617.50 600.10L612.17 596.23L614.21 589.97L620.79 589.97L622.83 596.23Z"/><path d="M624.50 578.10L619.17 574.23L621.21 567.97L627.79 567.97L629.83 574.23Z"/><path d="M630.50 557.10L625.17 553.23L627.21 546.97L633.79 546.97L635.83 553.23Z"/><path d="M636.50 530.10L631.17 526.23L633.21 519.97L639.79 519.97L641.83 526.23Z"/><path d="M642.50 516.10L637.17 512.23L639.21 505.97L645.79 505.97L647.83 512.23Z"/><path d="M648.50 522.10L643.17 518.23L645.21 511.97L651.79 511.97L653.83 518.23Z"/><path d="M654.50 536.10L649.17 532.23L651.21 525.97L657.79 525.97L659.83 532.23Z"/><path d="M661.50 590.10L656.17 586.23L658.21 579.97L664.79 579.97L666.83 586.23Z"/><path d="M667.50 612.10L662.17 608.23L664.21 601.97L670.79 601.97L672.83 608.23Z"/><path d="M673.50 630.10L668.17 626.23L670.21 619.97L676.79 619.97L678.83 626.23Z"/><path d="M679.50 646.10L674.17 642.23L676.21 635.97L682.79 635.97L684.83 642.23Z"/><path d="M685.50 645.10L680.17 641.23L682.21 634.97L688.79 634.97L690.83 641.23Z"/><path d="M691.50 657.10L686.17 653.23L688.21 646.97L694.79 646.97L696.83 653.23Z"/><path d="M697.50 658.10L692.17 654.23L694.21 647.97L700.79 647.97L702.83 654.23Z"/><path d="M704.50 665.10L699.17 661.23L701.21 654.97L707.79 654.97L709.83 661.23Z"/><path d="M710.50 678.10L705.17 674.23L707.21 667.97L713.79 667.97L715.83 674.23Z"/><path d="M716.50 678.10L711.17 674.23L713.21 667.97L719.79 667.97L721.83 674.23Z"/><path d="M722.50 686.10L717.17 682.23L719.21 675.97L725.79 675.97L727.83 682.23Z"/><path d="M728.50 717.10L723.17 713.23L725.21 706.97L731.79 706.97L733.83 713.23Z"/><path d="M734.50 730.10L729.17 726.23L731.21 719.97L737.79 719.97L739.83 726.23Z"/><path d="M740.50 766.10L735.17 762.23L737.21 755.97L743.79 755.97L745.83 762.23Z"/><path d="M747.50 806.10L742.17 802.23L744.21 795.97L750.79 795.97L752.83 802.23Z"/><path d="M753.50 835.10L748.17 831.23L750.21 824.97L756.79 824.97L758.83 831.23Z"/><path d="M759.50 853.10L754.17 849.23L756.21 842.97L762.79 842.97L764.83 849.23Z"/><path d="M765.50 851.10L760.17 847.23L762.21 840.97L768.79 840.97L770.83 847.23Z"/><path d="M771.50 806.10L766.17 802.23L768.21 795.97L774.79 795.97L776.83 802.23Z"/><path d="M777.50 756.10L772.17 752.23L774.21 745.97L780.79 745.97L782.83 752.23Z"/><path d="M784.50 732.10L779.17 728.23L781.21 721.97L787.79 721.97L789.83 728.23Z"/><path d="M790.50 732.10L785.17 728.23L787.21 721.97L793.79 721.97L795.83 728.23Z"/><path d="M796.50 734.10L791.17 730.23L793.21 723.97L799.79 723.97L801.83 730.23Z"/><path d="M802.50 738.10L797.17 734.23L799.21 727.97L805.79 727.97L807.83 734.23Z"/><path d="M808.50 767.10L803.17 763.23L805.21 756.97L811.79 756.97L813.83 763.23Z"/><path d="M814.50 827.10L809.17 823.23L811.21 816.97L817.79 816.97L819.83 823.23Z"/><path d="M820.50 868.10L815.17 864.23L817.21 857.97L823.79 857.97L825.83 864.23Z"/><path d="M827.50 870.10L822.17 866.23L824.21 859.97L830.79 859.97L832.83 866.23Z"/><path d="M833.50 862.10L828.17 858.23L830.21 851.97L836.79 851.97L838.83 858.23Z"/><path d="M839.50 870.10L834.17 866.23L836.21 859.97L842.79 859.97L844.83 866.23Z"/><path d="M845.50 861.10L840.17 857.23L842.21 850.97L848.79 850.97L850.83 857.23Z"/><path d="M851.50 853.10L846.17 849.23L848.21 842.97L854.79 842.97L856.83 849.23Z"/><path d="M857.50 862.10L852.17 858.23L854.21 851.97L860.79 851.97L862.83 858.23Z"/><path d="M863.50 887.10L858.17 883.23L860.21 876.97L866.79 876.97L868.83 883.23Z"/><path d="M870.50 899.10L865.17 895.23L867.21 888.97L873.79 888.97L875.83 895.23Z"/><path d="M876.50 891.10L871.17 887.23L873.21 880.97L879.79 880.97L881.83 887.23Z"/><path d="M882.50 894.10L877.17 890.23L879.21 883.97L885.79 883.97L887.83 890.23Z"/><path d="M888.50 898.10L883.17 894.23L885.21 887.97L891.79 887.97L893.83 894.23Z"/><path d="M894.50 878.10L889.17 874.23L891.21 867.97L897.79 867.97L899.83 874.23Z"/><path d="M900.50 887.10L895.17 883.23L897.21 876.97L903.79 876.97L905.83 883.23Z"/><path d="M907.50 881.10L902.17 877.23L904.21 870.97L910.79 870.97L912.83 877.23Z"/><path d="M913.50 897.10L908.17 893.23L910.21 886.97L916.79 886.97L918.83 893.23Z"/><path d="M919.50 889.10L914.17 885.23L916.21 878.97L922.79 878.97L924.83 885.23Z"/><path d="M925.50 840.10L920.17 836.23L922.21 829.97L928.79 829.97L930.83 836.23Z"/><path d="M943.50 790.10L938.17 786.23L940.21 779.97L946.79 779.97L948.83 786.23Z"/><path d="M962.50 769.10L957.17 765.23L959.21 758.97L965.79 758.97L967.83 765.23Z"/><path d="M980.50 859.10L975.17 855.23L977.21 848.97L983.79 848.97L985.83 855.23Z"/><path d="M999.50 783.10L994.17 779.23L996.21 772.97L1002.79 772.97L1004.83 779.23Z"/><path d="M1017.50 645.10L1012.17 641.23L1014.21 634.97L1020.79 634.97L1022.83 641.23Z"/><path d="M1036.50 612.10L1031.17 608.23L1033.21 601.97L1039.79 601.97L1041.83 608.23Z"/><path d="M1054.50 557.10L1049.17 553.23L1051.21 546.97L1057.79 546.97L1059.83 553.23Z"/><path d="M1073.50 465.10L1068.17 461.23L1070.21 454.97L1076.79 454.97L1078.83 461.23Z"/><path d="M1091.50 537.10L1086.17 533.23L1088.21 526.97L1094.79 526.97L1096.83 533.23Z"/><path d="M1109.50 571.10L1104.17 567.23L1106.21 560.97L1112.79 560.97L1114.83 567.23Z"/><path d="M1128.50 582.10L1123.17 578.23L1125.21 571.97L1131.79 571.97L1133.83 578.23Z"/><path d="M1146.50 737.10L1141.17 733.23L1143.21 726.97L1149.79 726.97L1151.83 733.23Z"/><path d="M1165.50 898.10L1160.17 894.23L1162.21 887.97L1168.79 887.97L1170.83 894.23Z"/><path d="M1183.50 903.10L1178.17 899.23L1180.21 892.97L1186.79 892.97L1188.83 899.23Z"/><path d="M1202.50 904.10L1197.17 900.23L1199.21 893.97L1205.79 893.97L1207.83 900.23Z"/><path d="M1220.50 903.10L1215.17 899.23L1217.21 892.97L1223.79 892.97L1225.83 899.23Z"/><path d="M1239.50 904.10L1234.17 900.23L1236.21 893.97L1242.79 893.97L1244.83 900.23Z"/><path d="M1257.50 880.10L1252.17 876.23L1254.21 869.97L1260.79 869.97L1262.83 876.23Z"/><path d="M1276.50 854.10L1271.17 850.23L1273.21 843.97L1279.79 843.97L1281.83 850.23Z"/><path d="M1294.50 888.10L1289.17 884.23L1291.21 877.97L1297.79 877.97L1299.83 884.23Z"/><path d="M1312.50 894.10L1307.17 890.23L1309.21 883.97L1315.79 883.97L1317.83 890.23Z"/><path d="M1331.50 894.10L1326.17 890.23L1328.21 883.97L1334.79 883.97L1336.83 890.23Z"/><path d="M1349.50 872.10L1344.17 868.23L1346.21 861.97L1352.79 861.97L1354.83 868.23Z"/><path d="M1368.50 829.10L1363.17 825.23L1365.21 818.97L1371.79 818.97L1373.83 825.23Z"/><path d="M1386.50 826.10L1381.17 822.23L1383.21 815.97L1389.79 815.97L1391.83 822.23Z"/><path d="M1405.50 823.10L1400.17 819.23L1402.21 812.97L1408.79 812.97L1410.83 819.23Z"/><path d="M1423.50 795.10L1418.17 791.23L1420.21 784.97L1426.79 784.97L1428.83 791.23Z"/><path d="M1442.50 812.10L1437.17 808.23L1439.21 801.97L1445.79 801.97L1447.83 808.23Z"/></g>
<g stroke="#ffa500" stroke-width="1.15" stroke-linecap="round" fill="none"><path d="M1383.65 277.50H1393.35M1388.50 272.65V282.35M1383.80 272.80L1393.20 282.20M1383.80 282.20L1393.20 272.80"/><path d="M188.65 703.50H198.35M193.50 698.65V708.35M188.80 698.80L198.20 708.20M188.80 708.20L198.20 698.80"/><path d="M194.65 651.50H204.35M199.50 646.65V656.35M194.80 646.80L204.20 656.20M194.80 656.20L204.20 646.80"/><path d="M200.65 613.50H210.35M205.50 608.65V618.35M200.80 608.80L210.20 618.20M200.80 618.20L210.20 608.80"/><path d="M207.65 599.50H217.35M212.50 594.65V604.35M207.80 594.80L217.20 604.20M207.80 604.20L217.20 594.80"/><path d="M213.65 600.50H223.35M218.50 595.65V605.35M213.80 595.80L223.20 605.20M213.80 605.20L223.20 595.80"/><path d="M219.65 611.50H229.35M224.50 606.65V616.35M219.80 606.80L229.20 616.20M219.80 616.20L229.20 606.80"/><path d="M225.65 630.50H235.35M230.50 625.65V635.35M225.80 625.80L235.20 635.20M225.80 635.20L235.20 625.80"/><path d="M231.65 638.50H241.35M236.50 633.65V643.35M231.80 633.80L241.20 643.20M231.80 643.20L241.20 633.80"/><path d="M237.65 627.50H247.35M242.50 622.65V632.35M237.80 622.80L247.20 632.20M237.80 632.20L247.20 622.80"/><path d="M243.65 637.50H253.35M248.50 632.65V642.35M243.80 632.80L253.20 642.20M243.80 642.20L253.20 632.80"/><path d="M250.65 625.50H260.35M255.50 620.65V630.35M250.80 620.80L260.20 630.20M250.80 630.20L260.20 620.80"/><path d="M256.65 595.50H266.35M261.50 590.65V600.35M256.80 590.80L266.20 600.20M256.80 600.20L266.20 590.80"/><path d="M262.65 587.50H272.35M267.50 582.65V592.35M262.80 582.80L272.20 592.20M262.80 592.20L272.20 582.80"/><path d="M268.65 580.50H278.35M273.50 575.65V585.35M268.80 575.80L278.20 585.20M268.80 585.20L278.20 575.80"/><path d="M274.65 563.50H284.35M279.50 558.65V568.35M274.80 558.80L284.20 568.20M274.80 568.20L284.20 558.80"/><path d="M280.65 556.50H290.35M285.50 551.65V561.35M280.80 551.80L290.20 561.20M280.80 561.20L290.20 551.80"/><path d="M287.65 566.50H297.35M292.50 561.65V571.35M287.80 561.80L297.20 571.20M287.80 571.20L297.20 561.80"/><path d="M293.65 574.50H303.35M298.50 569.65V579.35M293.80 569.80L303.20 579.20M293.80 579.20L303.20 569.80"/><path d="M299.65 582.50H309.35M304.50 577.65V587.35M299.80 577.80L309.20 587.20M299.80 587.20L309.20 577.80"/><path d="M305.65 596.50H315.35M310.50 591.65V601.35M305.80 591.80L315.20 601.20M305.80 601.20L315.20 591.80"/><path d="M311.65 621.50H321.35M316.50 616.65V626.35M311.80 616.80L321.20 626.20M311.80 626.20L321.20 616.80"/><path d="M317.65 637.50H327.35M322.50 632.65V642.35M317.80 632.80L327.20 642.20M317.80 642.20L327.20 632.80"/><path d="M323.65 630.50H333.35M328.50 625.65V635.35M323.80 625.80L333.20 635.20M323.80 635.20L333.20 625.80"/><path d="M330.65 646.50H340.35M335.50 641.65V651.35M330.80 641.80L340.20 651.20M330.80 651.20L340.20 641.80"/><path d="M336.65 656.50H346.35M341.50 651.65V661.35M336.80 651.80L346.20 661.20M336.80 661.20L346.20 651.80"/><path d="M342.65 634.50H352.35M347.50 629.65V639.35M342.80 629.80L352.20 639.20M342.80 639.20L352.20 629.80"/><path d="M348.65 610.50H358.35M353.50 605.65V615.35M348.80 605.80L358.20 615.20M348.80 615.20L358.20 605.80"/><path d="M354.65 610.50H364.35M359.50 605.65V615.35M354.80 605.80L364.20 615.20M354.80 615.20L364.20 605.80"/><path d="M360.65 632.50H370.35M365.50 627.65V637.35M360.80 627.80L370.20 637.20M360.80 637.20L370.20 627.80"/><path d="M366.65 649.50H376.35M371.50 644.65V654.35M366.80 644.80L376.20 654.20M366.80 654.20L376.20 644.80"/><path d="M373.65 674.50H383.35M378.50 669.65V679.35M373.80 669.80L383.20 679.20M373.80 679.20L383.20 669.80"/><path d="M379.65 671.50H389.35M384.50 666.65V676.35M379.80 666.80L389.20 676.20M379.80 676.20L389.20 666.80"/><path d="M385.65 666.50H395.35M390.50 661.65V671.35M385.80 661.80L395.20 671.20M385.80 671.20L395.20 661.80"/><path d="M391.65 673.50H401.35M396.50 668.65V678.35M391.80 668.80L401.20 678.20M391.80 678.20L401.20 668.80"/><path d="M397.65 668.50H407.35M402.50 663.65V673.35M397.80 663.80L407.20 673.20M397.80 673.20L407.20 663.80"/><path d="M403.65 656.50H413.35M408.50 651.65V661.35M403.80 651.80L413.20 661.20M403.80 661.20L413.20 651.80"/><path d="M422.65 655.50H432.35M427.50 650.65V660.35M422.80 650.80L432.20 660.20M422.80 660.20L432.20 650.80"/><path d="M440.65 670.50H450.35M445.50 665.65V675.35M440.80 665.80L450.20 675.20M440.80 675.20L450.20 665.80"/><path d="M459.65 718.50H469.35M464.50 713.65V723.35M459.80 713.80L469.20 723.20M459.80 723.20L469.20 713.80"/><path d="M477.65 701.50H487.35M482.50 696.65V706.35M477.80 696.80L487.20 706.20M477.80 706.20L487.20 696.80"/><path d="M496.65 607.50H506.35M501.50 602.65V612.35M496.80 602.80L506.20 612.20M496.80 612.20L506.20 602.80"/><path d="M514.65 636.50H524.35M519.50 631.65V641.35M514.80 631.80L524.20 641.20M514.80 641.20L524.20 631.80"/><path d="M533.65 708.50H543.35M538.50 703.65V713.35M533.80 703.80L543.20 713.20M533.80 713.20L543.20 703.80"/><path d="M551.65 657.50H561.35M556.50 652.65V662.35M551.80 652.80L561.20 662.20M551.80 662.20L561.20 652.80"/><path d="M569.65 632.50H579.35M574.50 627.65V637.35M569.80 627.80L579.20 637.20M569.80 637.20L579.20 627.80"/><path d="M588.65 612.50H598.35M593.50 607.65V617.35M588.80 607.80L598.20 617.20M588.80 617.20L598.20 607.80"/><path d="M606.65 625.50H616.35M611.50 620.65V630.35M606.80 620.80L616.20 630.20M606.80 630.20L616.20 620.80"/><path d="M625.65 639.50H635.35M630.50 634.65V644.35M625.80 634.80L635.20 644.20M625.80 644.20L635.20 634.80"/><path d="M643.65 588.50H653.35M648.50 583.65V593.35M643.80 583.80L653.20 593.20M643.80 593.20L653.20 583.80"/><path d="M662.65 608.50H672.35M667.50 603.65V613.35M662.80 603.80L672.20 613.20M662.80 613.20L672.20 603.80"/><path d="M680.65 640.50H690.35M685.50 635.65V645.35M680.80 635.80L690.20 645.20M680.80 645.20L690.20 635.80"/><path d="M699.65 634.50H709.35M704.50 629.65V639.35M699.80 629.80L709.20 639.20M699.80 639.20L709.20 629.80"/><path d="M717.65 659.50H727.35M722.50 654.65V664.35M717.80 654.80L727.20 664.20M717.80 664.20L727.20 654.80"/><path d="M735.65 714.50H745.35M740.50 709.65V719.35M735.80 709.80L745.20 719.20M735.80 719.20L745.20 709.80"/><path d="M754.65 767.50H764.35M759.50 762.65V772.35M754.80 762.80L764.20 772.20M754.80 772.20L764.20 762.80"/><path d="M772.65 799.50H782.35M777.50 794.65V804.35M772.80 794.80L782.20 804.20M772.80 804.20L782.20 794.80"/><path d="M791.65 770.50H801.35M796.50 765.65V775.35M791.80 765.80L801.20 775.20M791.80 775.20L801.20 765.80"/><path d="M809.65 781.50H819.35M814.50 776.65V786.35M809.80 776.80L819.20 786.20M809.80 786.20L819.20 776.80"/><path d="M828.65 818.50H838.35M833.50 813.65V823.35M828.80 813.80L838.20 823.20M828.80 823.20L838.20 813.80"/><path d="M846.65 808.50H856.35M851.50 803.65V813.35M846.80 803.80L856.20 813.20M846.80 813.20L856.20 803.80"/><path d="M865.65 826.50H875.35M870.50 821.65V831.35M865.80 821.80L875.20 831.20M865.80 831.20L875.20 821.80"/><path d="M883.65 846.50H893.35M888.50 841.65V851.35M883.80 841.80L893.20 851.20M883.80 851.20L893.20 841.80"/><path d="M902.65 868.50H912.35M907.50 863.65V873.35M902.80 863.80L912.20 873.20M902.80 873.20L912.20 863.80"/><path d="M920.65 885.50H930.35M925.50 880.65V890.35M920.80 880.80L930.20 890.20M920.80 890.20L930.20 880.80"/><path d="M938.65 824.50H948.35M943.50 819.65V829.35M938.80 819.80L948.20 829.20M938.80 829.20L948.20 819.80"/><path d="M957.65 777.50H967.35M962.50 772.65V782.35M957.80 772.80L967.20 782.20M957.80 782.20L967.20 772.80"/><path d="M975.65 788.50H985.35M980.50 783.65V793.35M975.80 783.80L985.20 793.20M975.80 793.20L985.20 783.80"/><path d="M994.65 751.50H1004.35M999.50 746.65V756.35M994.80 746.80L1004.20 756.20M994.80 756.20L1004.20 746.80"/><path d="M1012.65 740.50H1022.35M1017.50 735.65V745.35M1012.80 735.80L1022.20 745.20M1012.80 745.20L1022.20 735.80"/><path d="M1031.65 741.50H1041.35M1036.50 736.65V746.35M1031.80 736.80L1041.20 746.20M1031.80 746.20L1041.20 736.80"/><path d="M1049.65 796.50H1059.35M1054.50 791.65V801.35M1049.80 791.80L1059.20 801.20M1049.80 801.20L1059.20 791.80"/><path d="M1068.65 846.50H1078.35M1073.50 841.65V851.35M1068.80 841.80L1078.20 851.20M1068.80 851.20L1078.20 841.80"/><path d="M1086.65 815.50H1096.35M1091.50 810.65V820.35M1086.80 810.80L1096.20 820.20M1086.80 820.20L1096.20 810.80"/><path d="M1104.65 795.50H1114.35M1109.50 790.65V800.35M1104.80 790.80L1114.20 800.20M1104.80 800.20L1114.20 790.80"/><path d="M1123.65 813.50H1133.35M1128.50 808.65V818.35M1123.80 808.80L1133.20 818.20M1123.80 818.20L1133.20 808.80"/><path d="M1141.65 790.50H1151.35M1146.50 785.65V795.35M1141.80 785.80L1151.20 795.20M1141.80 795.20L1151.20 785.80"/><path d="M1160.65 784.50H1170.35M1165.50 779.65V789.35M1160.80 779.80L1170.20 789.20M1160.80 789.20L1170.20 779.80"/><path d="M1178.65 790.50H1188.35M1183.50 785.65V795.35M1178.80 785.80L1188.20 795.20M1178.80 795.20L1188.20 785.80"/><path d="M1197.65 817.50H1207.35M1202.50 812.65V822.35M1197.80 812.80L1207.20 822.20M1197.80 822.20L1207.20 812.80"/><path d="M1215.65 832.50H1225.35M1220.50 827.65V837.35M1215.80 827.80L1225.20 837.20M1215.80 837.20L1225.20 827.80"/><path d="M1234.65 793.50H1244.35M1239.50 788.65V798.35M1234.80 788.80L1244.20 798.20M1234.80 798.20L1244.20 788.80"/><path d="M1252.65 780.50H1262.35M1257.50 775.65V785.35M1252.80 775.80L1262.20 785.20M1252.80 785.20L1262.20 775.80"/><path d="M1271.65 787.50H1281.35M1276.50 782.65V792.35M1271.80 782.80L1281.20 792.20M1271.80 792.20L1281.20 782.80"/><path d="M1289.65 762.50H1299.35M1294.50 757.65V767.35M1289.80 757.80L1299.20 767.20M1289.80 767.20L1299.20 757.80"/><path d="M1307.65 779.50H1317.35M1312.50 774.65V784.35M1307.80 774.80L1317.20 784.20M1307.80 784.20L1317.20 774.80"/><path d="M1326.65 811.50H1336.35M1331.50 806.65V816.35M1326.80 806.80L1336.20 816.20M1326.80 816.20L1336.20 806.80"/><path d="M1344.65 871.50H1354.35M1349.50 866.65V876.35M1344.80 866.80L1354.20 876.20M1344.80 876.20L1354.20 866.80"/><path d="M1363.65 894.50H1373.35M1368.50 889.65V899.35M1363.80 889.80L1373.20 899.20M1363.80 899.20L1373.20 889.80"/><path d="M1400.65 853.50H1410.35M1405.50 848.65V858.35M1400.80 848.80L1410.20 858.20M1400.80 858.20L1410.20 848.80"/><path d="M1437.65 808.50H1447.35M1442.50 803.65V813.35M1437.80 803.80L1447.20 813.20M1437.80 813.20L1447.20 803.80"/></g>
</svg></body></html>
